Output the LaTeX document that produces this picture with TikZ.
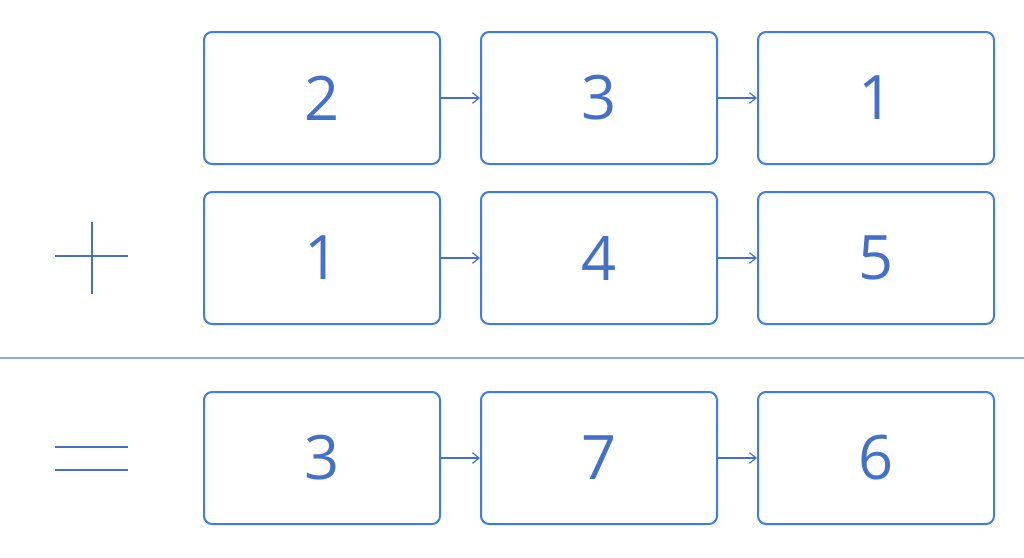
\documentclass[tikz,border=0pt]{standalone}
\usepackage{fontspec}
\setmainfont{Open Sans}
\usepackage{tikz}
\usetikzlibrary{arrows.meta}

\definecolor{boxblue}{HTML}{3B7DEB}
\definecolor{txtblue}{HTML}{4470C8}
\definecolor{ruleblue}{HTML}{8CAAE6}

\tikzset{
    digit/.style={draw=boxblue, line width=1.5pt, rounded corners=6pt,
        minimum width=177pt, minimum height=99pt, text=txtblue,
        font=\fontsize{46}{46}\selectfont},
    link/.style={-{Straight Barb[length=5pt,width=8pt]}, draw=txtblue, line width=0.9pt}
}

\begin{document}
\begin{tikzpicture}[x=0.75pt, y=-0.75pt]
    \useasboundingbox (0,0) rectangle (1024,557);

    \node[digit] (a1) at (322,98) {2};
    \node[digit] (a2) at (599,98) {3};
    \node[digit] (a3) at (876,98) {1};
    \node[digit] (b1) at (322,258) {1};
    \node[digit] (b2) at (599,258) {4};
    \node[digit] (b3) at (876,258) {5};
    \node[digit] (c1) at (322,458) {3};
    \node[digit] (c2) at (599,458) {7};
    \node[digit] (c3) at (876,458) {6};

    \draw[link] (a1) -- (a2);
    \draw[link] (a2) -- (a3);
    \draw[link] (b1) -- (b2);
    \draw[link] (b2) -- (b3);
    \draw[link] (c1) -- (c2);
    \draw[link] (c2) -- (c3);

    % plus and equals
    \draw[txtblue, line width=1.5pt] (55,256) -- (128,256) (92,222) -- (92,294);
    \draw[txtblue, line width=1.5pt] (55,447) -- (128,447) (55,470) -- (128,470);

    % sum rule
    \draw[ruleblue, line width=1.2pt] (0,358) -- (1024,358);
\end{tikzpicture}
\end{document}
